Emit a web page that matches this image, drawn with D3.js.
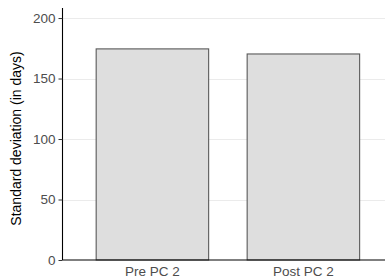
<!DOCTYPE html>
<html><head><meta charset="utf-8">
<script src="https://cdn.jsdelivr.net/npm/d3@7"></script>
<style>body{margin:0;background:#fff}svg{display:block}</style>
</head><body>
<script>
const categories = ["Pre PC 2", "Post PC 2"];
const values = [174.5, 170.3];
const yTicks = [0, 50, 100, 150, 200];
const yLabel = "Standard deviation (in days)";

const W = 385, H = 279;
const svg = d3.select("body").append("svg").attr("width", W).attr("height", H);
const font = "'Liberation Sans', Arial, sans-serif";

const x = d3.scaleBand().domain(categories).range([62.5, 393.3]).paddingInner(0.255).paddingOuter(0.223);
const y = d3.scaleLinear().domain([0, 208.3]).range([260, 8]);

// grid
svg.append("g").selectAll("line").data(yTicks.filter(d => d > 0)).join("line")
  .attr("x1", 62.5).attr("x2", W)
  .attr("y1", d => Math.round(y(d)) + 0.5).attr("y2", d => Math.round(y(d)) + 0.5)
  .attr("stroke", "#ebebeb").attr("stroke-width", 1);

// bars
svg.append("g").selectAll("rect").data(categories).join("rect")
  .attr("x", d => x(d)).attr("width", x.bandwidth())
  .attr("y", (d, i) => y(values[i])).attr("height", (d, i) => y(0) - y(values[i]))
  .attr("fill", "#dedede").attr("stroke", "#595959").attr("stroke-width", 1.1);

// y axis
const ya = svg.append("g").attr("transform", "translate(62.5,0)")
  .call(d3.axisLeft(y).tickValues(yTicks).tickSize(4).tickPadding(3));
ya.select(".domain").attr("stroke", "#000").attr("stroke-width", 1.1).attr("d", `M0,${y(208.3)}V${y(0)}`);
ya.selectAll(".tick line").attr("stroke", "#333");
ya.selectAll(".tick text").attr("fill", "#4d4d4d").attr("font-size", 13.5).attr("font-family", font);

// x axis
const xa = svg.append("g").attr("transform", `translate(0,${y(0)})`)
  .call(d3.axisBottom(x).tickSize(0).tickPadding(6));
xa.select(".domain").attr("stroke", "#000").attr("stroke-width", 1.1).attr("d", `M62.5,0H${W}`);
xa.selectAll(".tick text").attr("fill", "#4d4d4d").attr("font-size", 13.5).attr("font-family", font);

// y label
svg.append("text").attr("transform", "translate(21,138.5) rotate(-90)")
  .attr("text-anchor", "middle").attr("font-size", 14).attr("font-family", font)
  .attr("fill", "#000").text(yLabel);
</script>
</body></html>
